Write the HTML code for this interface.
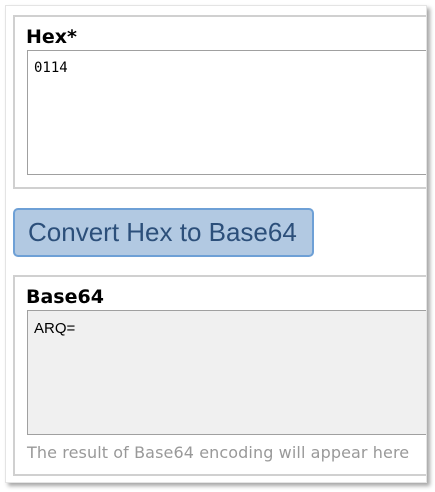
<!DOCTYPE html>
<html><head><style>
*{box-sizing:border-box;margin:0;padding:0}
body{width:435px;height:492px;background:#fff;position:relative;overflow:hidden;font-family:"DejaVu Sans","Liberation Sans",sans-serif}
.card{position:absolute;left:5px;top:5px;width:422px;height:478px;background:#fff;border:1px solid #e4e4e4;box-shadow:3px 3px 4px rgba(0,0,0,.35);overflow:hidden}
.fs{position:absolute;left:7px;width:440px;border:2px solid #d0d0d0;border-right:none}
.lbl{position:absolute;left:20px;font-weight:bold;font-size:19px;color:#000}
.ta{position:absolute;left:21px;width:420px;height:125px;border:1px solid #a0a0a0;border-right:none;font-family:"DejaVu Sans Mono","Liberation Mono",monospace;font-size:14px;padding:9px 6px;color:#000}
.btn{position:absolute;left:7px;top:202px;width:301px;height:49px;background:#b2c9e2;border:2px solid #6ea0d6;border-radius:5px;font-family:"Liberation Sans",sans-serif;font-size:26px;color:#2c4f7a;padding-left:13px;line-height:45px}
.help{position:absolute;left:21px;top:437px;font-size:16px;color:#999;letter-spacing:0.1px}
</style></head><body>
<div class="card">
 <div class="fs" style="top:9px;height:174px"></div>
 <div class="lbl" style="top:20px">Hex*</div>
 <div class="ta" style="top:44px;background:#fff">0114</div>
 <div class="btn">Convert Hex to Base64</div>
 <div class="fs" style="top:269px;height:201px"></div>
 <div class="lbl" style="top:280px">Base64</div>
 <div class="ta" style="top:304px;background:#f0f0f0;font-family:'Liberation Sans',sans-serif;font-size:15px">ARQ=</div>
 <div class="help">The result of Base64 encoding will appear here</div>
</div>
</body></html>
